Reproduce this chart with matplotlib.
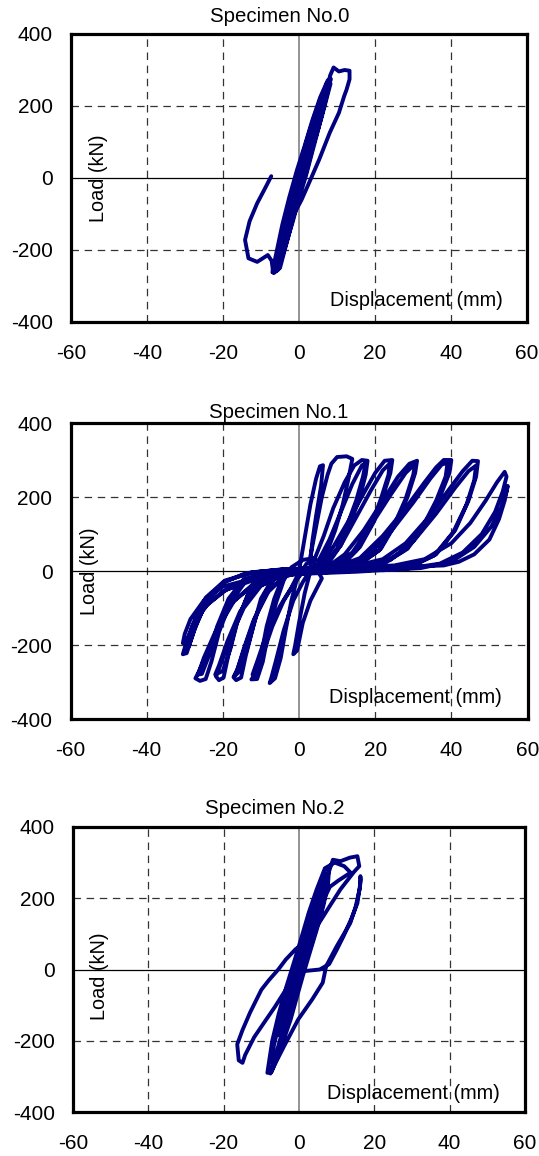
import matplotlib
matplotlib.use('Agg')
import matplotlib.pyplot as plt

plt.rcParams['font.family'] = ['Liberation Sans', 'DejaVu Sans']
plt.rcParams['axes.unicode_minus'] = False

# (displacement mm, load kN)
loop0 = [(0, 0), (1.2, 35), (2.3, 85), (2, 80), (0.8, 40), (-0.5, -10), (-1.5, -55), (-2.3, -90), (-2, -85), (-0.8, -40), (0.3, 0),
         (1.8, 50), (3.2, 105), (4.4, 155), (4, 160), (2.5, 110), (0.8, 50), (-1, -20), (-2.5, -85), (-3.6, -140), (-4, -165),
         (-3.3, -150), (-1.8, -95), (-0.3, -35), (1, 10),
         (2.8, 75), (4.5, 140), (5.8, 200), (6.5, 228), (5.8, 225), (4, 170), (2.2, 110), (0.3, 40), (-1.5, -30), (-3.2, -100),
         (-4.7, -170), (-5.6, -225), (-5.8, -235), (-4.8, -215), (-3, -150), (-1.3, -85), (0.3, -20), (1.5, 30),
         (4, 100), (6, 170), (7.5, 230), (8.3, 262), (7.6, 272), (5.6, 225), (3.5, 160), (1.5, 90), (-0.6, 20), (-2.6, -55),
         (-4.4, -130), (-5.8, -200), (-6.8, -250), (-7, -262), (-5.6, -256), (-3.6, -190), (-1.6, -120), (0.2, -50), (1.8, 5),
         (3.3, 65), (5.2, 140), (6.8, 210), (8, 262), (8.4, 275), (7.3, 264), (5.5, 205), (3.5, 135), (1.4, 60), (-0.4, -5),
         (-2.4, -80), (-4.2, -150), (-5.6, -215), (-6.6, -258), (-5.3, -250), (-3.2, -175), (-1.4, -105), (0.3, -40), (2, 20),
         (3.6, 85), (5.5, 155), (7.2, 225), (8.2, 270), (7.6, 268), (6, 215), (4.2, 150), (2.2, 80), (0.5, 15), (-1.6, -60),
         (-3.5, -130), (-5, -200), (-6.2, -250), (-6.6, -264), (-5, -250), (-3, -170), (-1.3, -100), (0.3, -30), (2.1, 35),
         (3.8, 100), (5.5, 170), (7.1, 240), (8.2, 285), (9.1, 307), (10.5, 296), (12, 300), (13.3, 298), (13.3, 274),
         (12.5, 245), (11.9, 228), (10.5, 181), (8.1, 126), (5.3, 51), (3, -5), (0.7, -60), (-1.2, -98), (-3, -153), (-5, -209),
         (-5.8, -256), (-6.8, -262), (-7.2, -230), (-8.2, -214), (-11, -233), (-13.3, -223), (-14.2, -172), (-13, -120),
         (-11, -70), (-9, -30), (-7.3, 5)]

loop1 = [(0, 0),
         (1.5, 90), (3, 180), (4.5, 250), (5.5, 283), (6.3, 286), (5.8, 230), (4.5, 150), (3.5, 80), (3, 30), (3, 0),
         (1.5, -60), (0, -140), (-1, -200), (-1.5, -225), (-0.5, -215), (1, -140), (3, -80), (5, -40), (6, -20),
         (3, 40), (4.5, 120), (6, 200), (7.5, 260), (8.5, 290), (10, 308), (12.5, 310), (14, 303), (13, 250), (11.5, 180),
         (9.5, 110), (7.5, 55), (5.5, 20), (3, 3),
         (1, -30), (-1.5, -80), (-4, -160), (-6, -240), (-7.3, -290), (-7.7, -303), (-6.3, -290), (-4.8, -235), (-3.5, -160),
         (-2, -80), (-0.5, -20), (2, 20),
         (4, 30), (6.5, 95), (9, 170), (12, 240), (14.5, 285), (16.5, 300), (18, 298), (17.5, 260), (16, 200), (13.5, 130),
         (11, 70), (8, 25), (5, 6), (1, -2),
         (-1, -30), (-4, -80), (-7, -150), (-9.5, -225), (-11.5, -280), (-12.5, -293), (-11, -292), (-9.5, -245), (-8, -165),
         (-6, -85), (-4, -25), (-2, 10), (1, 30), (4, 35),
         (5, 25), (8, 85), (11, 160), (14, 235), (16.5, 285), (17.5, 292), (16.8, 255), (15, 190), (12.5, 120), (10, 60),
         (7, 20), (4, 4), (0, -4),
         (-2, -45), (-5, -95), (-8.5, -170), (-11, -245), (-12.2, -280), (-11.5, -283), (-10, -230), (-8.5, -150), (-6.5, -75),
         (-4.5, -22), (-1.5, 2), (3, 8),
         (6, 22), (9, 65), (13, 135), (17, 210), (20, 265), (22.5, 298), (24.5, 300), (24, 265), (22, 200), (19.5, 130),
         (16, 65), (12, 22), (7, 5), (1, -3),
         (-4, -15), (-8, -55), (-11.5, -125), (-14, -200), (-16, -262), (-17.2, -287), (-16.5, -295), (-15.2, -288),
         (-14, -230), (-12, -150), (-10, -75), (-7, -22), (-3, 2), (3, 8),
         (7, 20), (11, 70), (15, 145), (19, 220), (22, 272), (23.8, 290), (23.5, 260), (21.5, 195), (19, 125), (15, 55),
         (11, 18), (6, 4), (0, -4),
         (-4, -15), (-8.5, -60), (-12, -135), (-14.5, -210), (-16.3, -270), (-17, -285), (-15.5, -270), (-13.5, -205),
         (-11.5, -130), (-9, -60), (-6, -15), (-2, 3), (4, 8),
         (8, 15), (12, 45), (17, 110), (22, 190), (26, 255), (29, 290), (31, 298), (30.5, 265), (28.5, 200), (25.5, 130),
         (21.5, 60), (16, 18), (9, 4), (2, -3),
         (-4, -10), (-10, -40), (-14.5, -100), (-18, -180), (-20.5, -250), (-21.8, -285), (-21, -295), (-19.8, -288),
         (-18.5, -225), (-16.5, -145), (-13.5, -65), (-9.5, -15), (-4, 3), (3, 8),
         (9, 15), (14, 50), (19, 125), (24, 205), (28, 265), (30.5, 290), (30, 260), (28, 195), (25, 125), (21, 55),
         (15, 15), (8, 3), (1, -3),
         (-5, -12), (-11, -45), (-15.5, -110), (-18.8, -190), (-21, -255), (-22, -280), (-20, -270), (-18, -210), (-16, -130),
         (-13, -55), (-8.5, -12), (-3, 3), (4, 8),
         (10, 12), (16, 35), (22, 95), (28, 170), (33, 240), (36, 280), (38, 300), (40, 300), (39.5, 265), (37, 200),
         (33.5, 130), (28.5, 60), (22, 18), (14, 4), (5, -3),
         (-4, -8), (-11, -30), (-17, -80), (-21, -150), (-24, -220), (-26.3, -272), (-27.2, -290), (-26, -297), (-24.5, -292),
         (-23, -245), (-21, -165), (-18, -85), (-14, -28), (-8, -3), (0, 5), (6, 8),
         (12, 12), (18, 40), (24, 105), (30, 185), (34.5, 250), (37.5, 288), (39, 292), (38.5, 255), (36, 190), (32.5, 120),
         (27.5, 55), (21, 15), (12, 3), (4, -3),
         (-5, -10), (-12, -35), (-18, -90), (-22, -165), (-25, -235), (-26.5, -280), (-25.5, -278), (-23.5, -225),
         (-21.5, -150), (-18.5, -75), (-14.5, -22), (-8, -2), (1, 5), (7, 8),
         (14, 12), (22, 32), (28, 75), (34, 145), (39, 215), (43, 270), (45.5, 298), (47, 297), (46.5, 255), (44.5, 190),
         (41, 110), (36, 45), (30, 14), (20, 3), (8, -3),
         (-2, -8), (-12, -25), (-19, -50), (-24, -90), (-27.5, -140), (-29.5, -190), (-30.5, -225), (-29.5, -222),
         (-27.5, -160), (-24.5, -85), (-20, -32), (-14, -6), (-5, 4), (5, 8),
         (16, 12), (24, 30), (30, 80), (36, 155), (41, 225), (44.5, 270), (46.5, 285), (46, 245), (44, 180), (40.5, 105),
         (35.5, 42), (29, 12), (18, 2), (6, -3),
         (-3, -8), (-13, -25), (-20, -55), (-25, -100), (-28, -150), (-29.5, -200), (-30, -215), (-29, -205), (-27, -145),
         (-24, -78), (-19.5, -28), (-13, -5), (-4, 4), (6, 8),
         (15, 10), (25, 15), (33, 32), (40, 75), (45, 130), (49, 190), (52, 240), (54, 268), (54.5, 255), (53.5, 215),
         (51.5, 160), (48, 100), (43, 50), (37, 20), (28, 6), (15, -2),
         (0, -8), (-12, -20), (-20, -42), (-25, -80), (-28.5, -130), (-30, -170), (-30.5, -195), (-29.5, -190),
         (-27.5, -135), (-24.5, -72), (-19.5, -26), (-12, -3), (-3, 5), (8, 8),
         (20, 10), (30, 12), (38, 15), (42, 25), (46, 45), (50, 85), (52.5, 140), (54, 190), (54.8, 230), (54.5, 215),
         (53, 170), (50.5, 120), (46, 65), (40, 25), (32, 8), (22, 2)]

loop2 = [(0, 0), (2, 70), (4, 140), (5.5, 200), (5, 205), (3, 130), (1, 55), (-1, -25), (-3, -100), (-4.5, -160),
         (-5.2, -185), (-4.5, -175), (-2.5, -110), (-0.5, -40), (1, 0),
         (3.3, 70), (5.3, 140), (6.8, 200), (7.6, 250), (7.2, 258), (5.2, 215), (3.1, 150), (1.1, 85), (-0.9, 15), (-2.9, -60),
         (-4.9, -135), (-6.6, -210), (-7.4, -258), (-6.5, -262), (-4.3, -205), (-2.2, -140), (-0.5, -75), (1.1, -15),
         (2.8, 45), (4.8, 115), (6.5, 180), (7.7, 240), (8, 285), (6.8, 282), (4.7, 225), (2.6, 160), (0.8, 95), (-1.2, 25),
         (-3.4, -50), (-5.4, -125), (-7.1, -200), (-8, -262), (-8.4, -290), (-7.3, -288), (-5.5, -240), (-3.7, -175),
         (-1.9, -105), (-0.2, -40), (1.5, 20),
         (3.2, 75), (5.2, 145), (6.6, 210), (7.5, 260), (9, 308), (11, 304), (13.5, 314), (15.5, 318), (16, 290), (14.6, 274),
         (11, 225), (8.1, 177), (5, 125), (2.6, 84), (-0.9, 57), (-3.5, 28), (-5.5, 0), (-8, -30), (-10, -57), (-13, -121),
         (-15, -170), (-16.4, -210), (-16, -255), (-15, -262), (-14.3, -240), (-11.9, -190), (-9, -145), (-6.4, -105),
         (-4, -65), (-1.8, -29), (0.9, -5), (5.5, 0), (8, 15), (10, 55), (11.8, 93), (14, 145), (15.5, 186), (16.4, 251),
         (16.3, 262), (16.2, 230), (15, 175), (13.6, 130), (10, 65), (7.2, 9), (6.3, -37), (3.5, -84), (-0.2, -140),
         (-3.9, -214), (-6.6, -270), (-7.6, -292), (-7.2, -275), (-5.5, -215), (-3.5, -140), (-1.5, -65), (0.5, 5),
         (3, 95), (5, 170), (6.3, 240), (7, 285), (9.5, 300), (12, 290), (13.7, 272), (10.5, 250), (8.2, 232),
         (6.5, 195), (5, 150), (3, 90), (1, 30), (-1, -30)]

titles = ['Specimen No.0', 'Specimen No.1', 'Specimen No.2']
xticks = [-60, -40, -20, 0, 20, 40, 60]
yticks = [-400, -200, 0, 200, 400]

W, H = 539, 1156
fig = plt.figure(figsize=(W / 100, H / 100), dpi=100)

# axes boxes in pixels: left, top, right, bottom
boxes = [(71, 34, 527, 322), (70.5, 423, 527.5, 719), (73, 827, 525, 1112)]
title_pos = [(280, 17), (279, 412), (275, 808)]
load_lab = [(-52.7, 0), (-54.9, 0), (-52.9, -20)]
disp_lab = [(53.7, -339), (53.2, -343), (53.2, -347)]

for i, data in enumerate([loop0, loop1, loop2]):
    l, t, r, b = boxes[i]
    ax = fig.add_axes([l / W, 1 - b / H, (r - l) / W, (b - t) / H])
    ax.set_xlim(-60, 60)
    ax.set_ylim(-400, 400)
    for gx in [-40, -20, 20, 40]:
        ax.axvline(gx, color='#333333', lw=0.9, ls=(0, (6, 4.5)), zorder=1)
    for gy in [-200, 200]:
        ax.axhline(gy, color='#333333', lw=0.9, ls=(0, (6, 4.5)), zorder=1)
    ax.axvline(0, color='#777777', lw=1.1, zorder=1)
    ax.axhline(0, color='black', lw=0.9, zorder=1)

    xs = [p[0] for p in data]
    ys = [p[1] for p in data]
    ax.plot(xs, ys, color='#000080', lw=2.8, solid_joinstyle='round', solid_capstyle='round', zorder=3)

    ax.set_xticks(xticks)
    ax.set_yticks(yticks)
    ax.set_xticklabels([str(v) for v in xticks])
    ax.set_yticklabels([str(v) for v in yticks])
    ax.tick_params(length=0, labelsize=15)
    ax.tick_params(axis='x', pad=16)
    ax.tick_params(axis='y', pad=13)
    for s in ax.spines.values():
        s.set_linewidth(2.3)
        s.set_color('black')

    ax.text(load_lab[i][0], load_lab[i][1], 'Load (kN)', rotation=90, ha='center', va='center', fontsize=14.3, zorder=4)
    ax.text(disp_lab[i][0], disp_lab[i][1], 'Displacement (mm)', ha='right', va='center', fontsize=14.3, zorder=4)
    fig.text(title_pos[i][0] / W, 1 - title_pos[i][1] / H, titles[i], ha='center', va='center', fontsize=14.7)

fig.savefig('out.png', dpi=100)
